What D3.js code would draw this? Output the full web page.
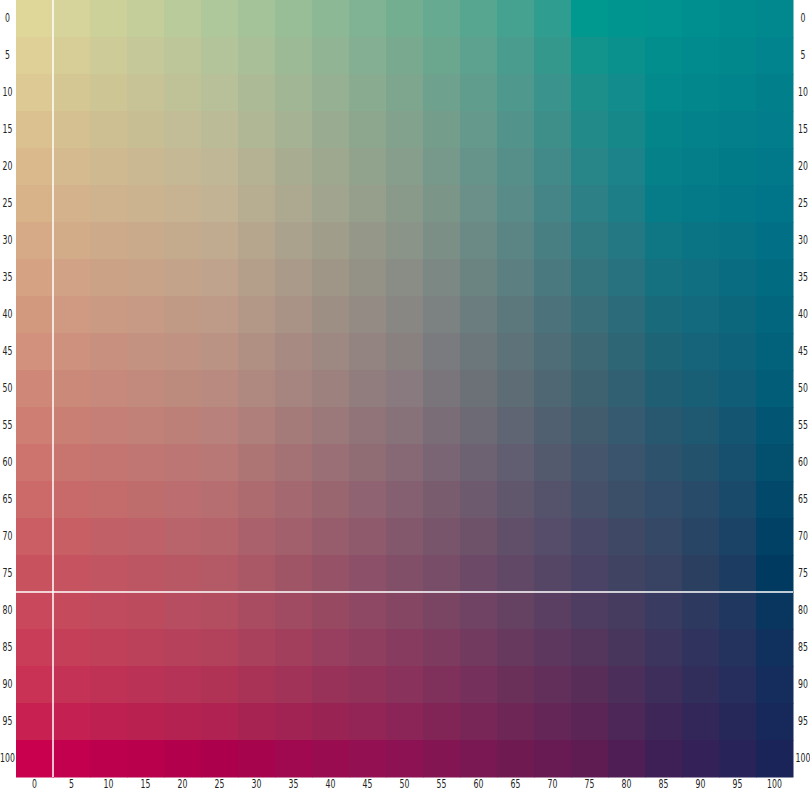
<!DOCTYPE html>
<html>
<head>
<meta charset="utf-8">
<script src="https://cdn.jsdelivr.net/npm/d3@7"></script>
<style>
  body { margin: 0; background: #fff; }
  .tick text { font-family: "DejaVu Sans Condensed", "DejaVu Sans", sans-serif; font-stretch: condensed; font-size: 12px; fill: #222; }
</style>
</head>
<body>
<svg id="chart"></svg>
<script>
const xValues = [0, 5, 10, 15, 20, 25, 30, 35, 40, 45, 50, 55, 60, 65, 70, 75, 80, 85, 90, 95, 100];
const yValues = [0, 5, 10, 15, 20, 25, 30, 35, 40, 45, 50, 55, 60, 65, 70, 75, 80, 85, 90, 95, 100];

// colour stops: columns at xStops, rows at yStops
const xStops = [0, 25, 50, 75, 85, 100];
const yStops = [0, 25, 50, 75, 100];
const stopRows = [
  ["#dfd79a", "#afc89b", "#74ae91", "#00998f", "#00938f", "#00888e"],
  ["#d8b38a", "#c2b394", "#8a9a8a", "#2c8086", "#057c87", "#007589"],
  ["#cf8878", "#b98b80", "#887a7e", "#3f6270", "#1f5e73", "#025d78"],
  ["#c9525f", "#b45966", "#824f68", "#4a4365", "#384262", "#003a60"],
  ["#c8004e", "#ad004c", "#8c1253", "#5e1c52", "#3e1f56", "#1a2459"],
];

// highlighted cell edges
const markX = 2.5;
const markY = 77.5;

const width = 810;
const height = 792;
const margin = { top: 0, right: 17, bottom: 15, left: 16 };
const squeeze = 0.72;

const svg = d3.select("#chart").attr("width", width).attr("height", height);

const x = d3
  .scaleBand()
  .domain(xValues)
  .range([margin.left, width - margin.right]);
const y = d3
  .scaleBand()
  .domain(yValues)
  .range([margin.top, height - margin.bottom]);

const rowScales = stopRows.map((row) =>
  d3.scaleLinear().domain(xStops).range(row).interpolate(d3.interpolateLab)
);

const cellColor = (xv, yv) => {
  const column = rowScales.map((s) => s(xv));
  return d3
    .scaleLinear()
    .domain(yStops)
    .range(column)
    .interpolate(d3.interpolateLab)(yv);
};

const cells = [];
yValues.forEach((yv) => {
  xValues.forEach((xv) => {
    cells.push({ x: xv, y: yv });
  });
});

svg
  .append("g")
  .selectAll("rect")
  .data(cells)
  .join("rect")
  .attr("x", (d) => x(d.x))
  .attr("y", (d) => y(d.y))
  .attr("width", x.bandwidth() + 0.5)
  .attr("height", y.bandwidth() + 0.5)
  .attr("fill", (d) => cellColor(d.x, d.y));

// white cross lines
const xLin = d3.scaleLinear().domain([-2.5, 102.5]).range(x.range());
const yLin = d3.scaleLinear().domain([-2.5, 102.5]).range(y.range());

svg
  .append("line")
  .attr("x1", xLin(markX))
  .attr("x2", xLin(markX))
  .attr("y1", y.range()[0])
  .attr("y2", y.range()[1])
  .attr("stroke", "#fff")
  .attr("stroke-width", 1.5);

svg
  .append("line")
  .attr("x1", x.range()[0])
  .attr("x2", x.range()[1])
  .attr("y1", yLin(markY))
  .attr("y2", yLin(markY))
  .attr("stroke", "#fff")
  .attr("stroke-width", 1.5);

// axes, labels squeezed horizontally to look like a narrow font
const left = svg
  .append("g")
  .attr("transform", `translate(${margin.left},0)`)
  .call(d3.axisLeft(y).tickSize(0).tickPadding(0));
left.select(".domain").remove();
left
  .selectAll("text")
  .attr("x", -8.5 / squeeze)
  .attr("text-anchor", "middle")
  .attr("transform", `scale(${squeeze},1)`);

const right = svg
  .append("g")
  .attr("transform", `translate(${width - margin.right},0)`)
  .call(d3.axisRight(y).tickSize(0).tickPadding(0));
right.select(".domain").remove();
right
  .selectAll("text")
  .attr("x", 10 / squeeze)
  .attr("text-anchor", "middle")
  .attr("transform", `scale(${squeeze},1)`);

const bottom = svg
  .append("g")
  .attr("transform", `translate(0,${height - margin.bottom})`)
  .call(d3.axisBottom(x).tickSize(0).tickPadding(2));
bottom.select(".domain").remove();
bottom.selectAll("text").attr("transform", `scale(${squeeze},1)`);
</script>
</body>
</html>
